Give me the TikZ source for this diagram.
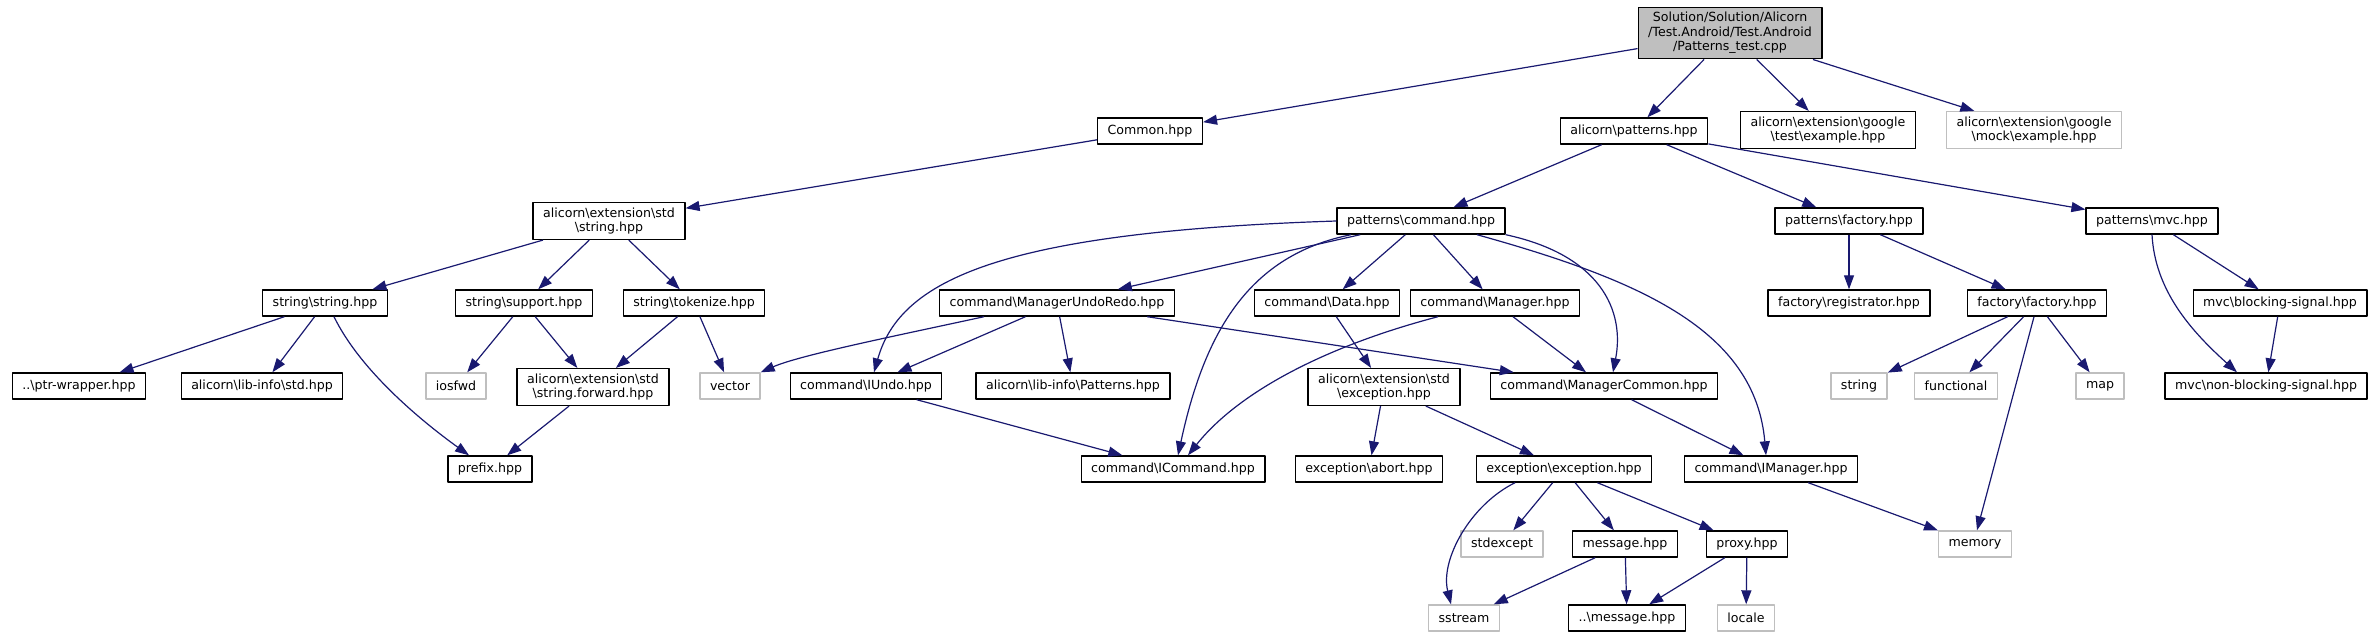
\documentclass[tikz,border=0pt]{standalone}
\usepackage{fontspec}
\setmainfont{DejaVu Sans}
\usetikzlibrary{arrows.meta}
\definecolor{edgeblue}{HTML}{191970}
\definecolor{sysgray}{HTML}{BFBFBF}
\newcommand{\bs}{\textbackslash}

\begin{document}
\begin{tikzpicture}[x=1pt, y=-1pt, line join=round,
  file/.style={draw=black, line width=1.4pt, fill=white, inner xsep=10pt, inner ysep=5pt,
    minimum height=26pt, align=center, font=\fontsize{12.6}{14.5}\selectfont},
  sysfile/.style={file, draw=sysgray},
  rootfile/.style={file, fill=sysgray},
  inc/.style={draw=edgeblue, line width=1.2pt, -{Triangle[length=14pt, width=10pt]}}]
  \useasboundingbox (0,0) rectangle (2377,637);
  % the file itself
  \node[rootfile] (root) at (1730,33) {Solution/Solution/Alicorn\\/Test.Android/Test.Android\\/Patterns\_test.cpp};
  % first level
  \node[file] (common) at (1150,131) {Common.hpp};
  \node[file] (patterns) at (1634,131) {alicorn\bs patterns.hpp};
  \node[file] (gtest) at (1828,130) {alicorn\bs extension\bs google\\\bs test\bs example.hpp};
  \node[sysfile] (gmock) at (2034,130) {alicorn\bs extension\bs google\\\bs mock\bs example.hpp};
  % second level
  \node[file] (stdstring) at (609,221) {alicorn\bs extension\bs std\\\bs string.hpp};
  \node[file] (command) at (1421,221) {patterns\bs command.hpp};
  \node[file] (factory) at (1849,221) {patterns\bs factory.hpp};
  \node[file] (mvc) at (2152,221) {patterns\bs mvc.hpp};
  % third level
  \node[file] (strstring) at (325,303) {string\bs string.hpp};
  \node[file] (strsupport) at (524,303) {string\bs support.hpp};
  \node[file] (strtokenize) at (694,303) {string\bs tokenize.hpp};
  \node[file] (undoredo) at (1057,303) {command\bs ManagerUndoRedo.hpp};
  \node[file] (data) at (1327,303) {command\bs Data.hpp};
  \node[file] (manager) at (1495,303) {command\bs Manager.hpp};
  \node[file] (registrator) at (1849,303) {factory\bs registrator.hpp};
  \node[file] (factfactory) at (2037,303) {factory\bs factory.hpp};
  \node[file] (blocking) at (2280,303) {mvc\bs blocking-signal.hpp};
  % fourth level
  \node[file] (ptrwrapper) at (79,386) {..\bs ptr-wrapper.hpp};
  \node[file] (libstd) at (262,386) {alicorn\bs lib-info\bs std.hpp};
  \node[sysfile] (iosfwd) at (456,386) {iosfwd};
  \node[file] (strforward) at (593,387) {alicorn\bs extension\bs std\\\bs string.forward.hpp};
  \node[sysfile] (vector) at (730,386) {vector};
  \node[file] (iundo) at (866,386) {command\bs IUndo.hpp};
  \node[file] (libpatterns) at (1073,386) {alicorn\bs lib-info\bs Patterns.hpp};
  \node[file] (exception) at (1384,387) {alicorn\bs extension\bs std\\\bs exception.hpp};
  \node[file] (managercommon) at (1604,386) {command\bs ManagerCommon.hpp};
  \node[sysfile] (string) at (1859,386) {string};
  \node[sysfile] (functional) at (1956,386) {functional};
  \node[sysfile] (map) at (2100,386) {map};
  \node[file] (nonblocking) at (2266,386) {mvc\bs non-blocking-signal.hpp};
  % fifth level
  \node[file] (prefix) at (490,469) {prefix.hpp};
  \node[file] (icommand) at (1173,469) {command\bs ICommand.hpp};
  \node[file] (abort) at (1369,469) {exception\bs abort.hpp};
  \node[file] (excexc) at (1564,469) {exception\bs exception.hpp};
  \node[file] (imanager) at (1771,469) {command\bs IManager.hpp};
  % sixth and seventh level
  \node[sysfile] (stdexcept) at (1502,544) {stdexcept};
  \node[file] (message) at (1625,544) {message.hpp};
  \node[file] (proxy) at (1747,544) {proxy.hpp};
  \node[sysfile] (memory) at (1975,544) {memory};
  \node[sysfile] (sstream) at (1464,618) {sstream};
  \node[file] (dotmessage) at (1627,618) {..\bs message.hpp};
  \node[sysfile] (locale) at (1746,618) {locale};

  % includes of the test file
  \draw[inc] (root) -- (common);
  \draw[inc] (root) -- (patterns);
  \draw[inc] (root) -- (gtest);
  \draw[inc] (root) -- (gmock);
  % string branch
  \draw[inc] (common) -- (stdstring);
  \draw[inc] (stdstring) -- (strstring);
  \draw[inc] (stdstring) -- (strsupport);
  \draw[inc] (stdstring) -- (strtokenize);
  \draw[inc] (strstring) -- (ptrwrapper);
  \draw[inc] (strstring) -- (libstd);
  \draw[inc] ([xshift=9pt]strstring.south) .. controls (360,370) and (420,420) .. ([xshift=-21pt]prefix.north);
  \draw[inc] (strsupport) -- (iosfwd);
  \draw[inc] (strsupport) -- (strforward);
  \draw[inc] (strtokenize) -- (strforward);
  \draw[inc] (strtokenize) -- (vector);
  \draw[inc] (strforward) -- (prefix);
  % patterns branch
  \draw[inc] (patterns) -- (command);
  \draw[inc] (patterns) -- (factory);
  \draw[inc] (patterns) -- (mvc);
  \draw[inc] (command.west) .. controls (1000,232) and (900,280) .. ([xshift=8pt]iundo.north);
  \draw[inc] (command) -- (undoredo);
  \draw[inc] ([xshift=-70pt]command.south) .. controls (1250,255) and (1205,330) .. ([xshift=5pt]icommand.north);
  \draw[inc] (command) -- (data);
  \draw[inc] (command) -- (manager);
  \draw[inc] (command.south east) .. controls (1600,255) and (1625,310) .. ([xshift=9pt]managercommon.north);
  \draw[inc] ([xshift=56pt]command.south) .. controls (1640,280) and (1755,330) .. ([xshift=-5pt]imanager.north);
  \draw[inc] ([xshift=-73pt]undoredo.south) .. controls (900,335) and (800,355) .. (vector.north east);
  \draw[inc] (undoredo) -- (iundo);
  \draw[inc] (undoredo) -- (libpatterns);
  \draw[inc] (undoredo) -- (managercommon);
  \draw[inc] (data) -- (exception);
  \draw[inc] ([xshift=-57pt]manager.south) .. controls (1330,345) and (1240,390) .. ([xshift=15pt]icommand.north);
  \draw[inc] (manager) -- (managercommon);
  \draw[inc] (iundo) -- (icommand);
  \draw[inc] (managercommon) -- (imanager);
  \draw[inc] (imanager) -- (memory);
  % exception branch
  \draw[inc] (exception) -- (abort);
  \draw[inc] (exception) -- (excexc);
  \draw[inc] ([xshift=-49pt]excexc.south) .. controls (1470,505) and (1440,560) .. ([xshift=-13pt]sstream.north);
  \draw[inc] (excexc) -- (stdexcept);
  \draw[inc] (excexc) -- (message);
  \draw[inc] (excexc) -- (proxy);
  \draw[inc] (message) -- (sstream);
  \draw[inc] (message) -- (dotmessage);
  \draw[inc] (proxy) -- (dotmessage);
  \draw[inc] (proxy) -- (locale);
  % factory and mvc branches
  \draw[inc] (factory) -- (registrator);
  \draw[inc] (factory) -- (factfactory);
  \draw[inc] (factfactory) -- (string);
  \draw[inc] (factfactory) -- (functional);
  \draw[inc] ([xshift=-3pt]factfactory.south) -- ([xshift=2pt]memory.north);
  \draw[inc] (factfactory) -- (map);
  \draw[inc] (mvc) -- (blocking);
  \draw[inc] (mvc.south) .. controls (2155,290) and (2190,330) .. ([xshift=-29pt]nonblocking.north);
  \draw[inc] (blocking) -- (nonblocking);
\end{tikzpicture}
\end{document}
